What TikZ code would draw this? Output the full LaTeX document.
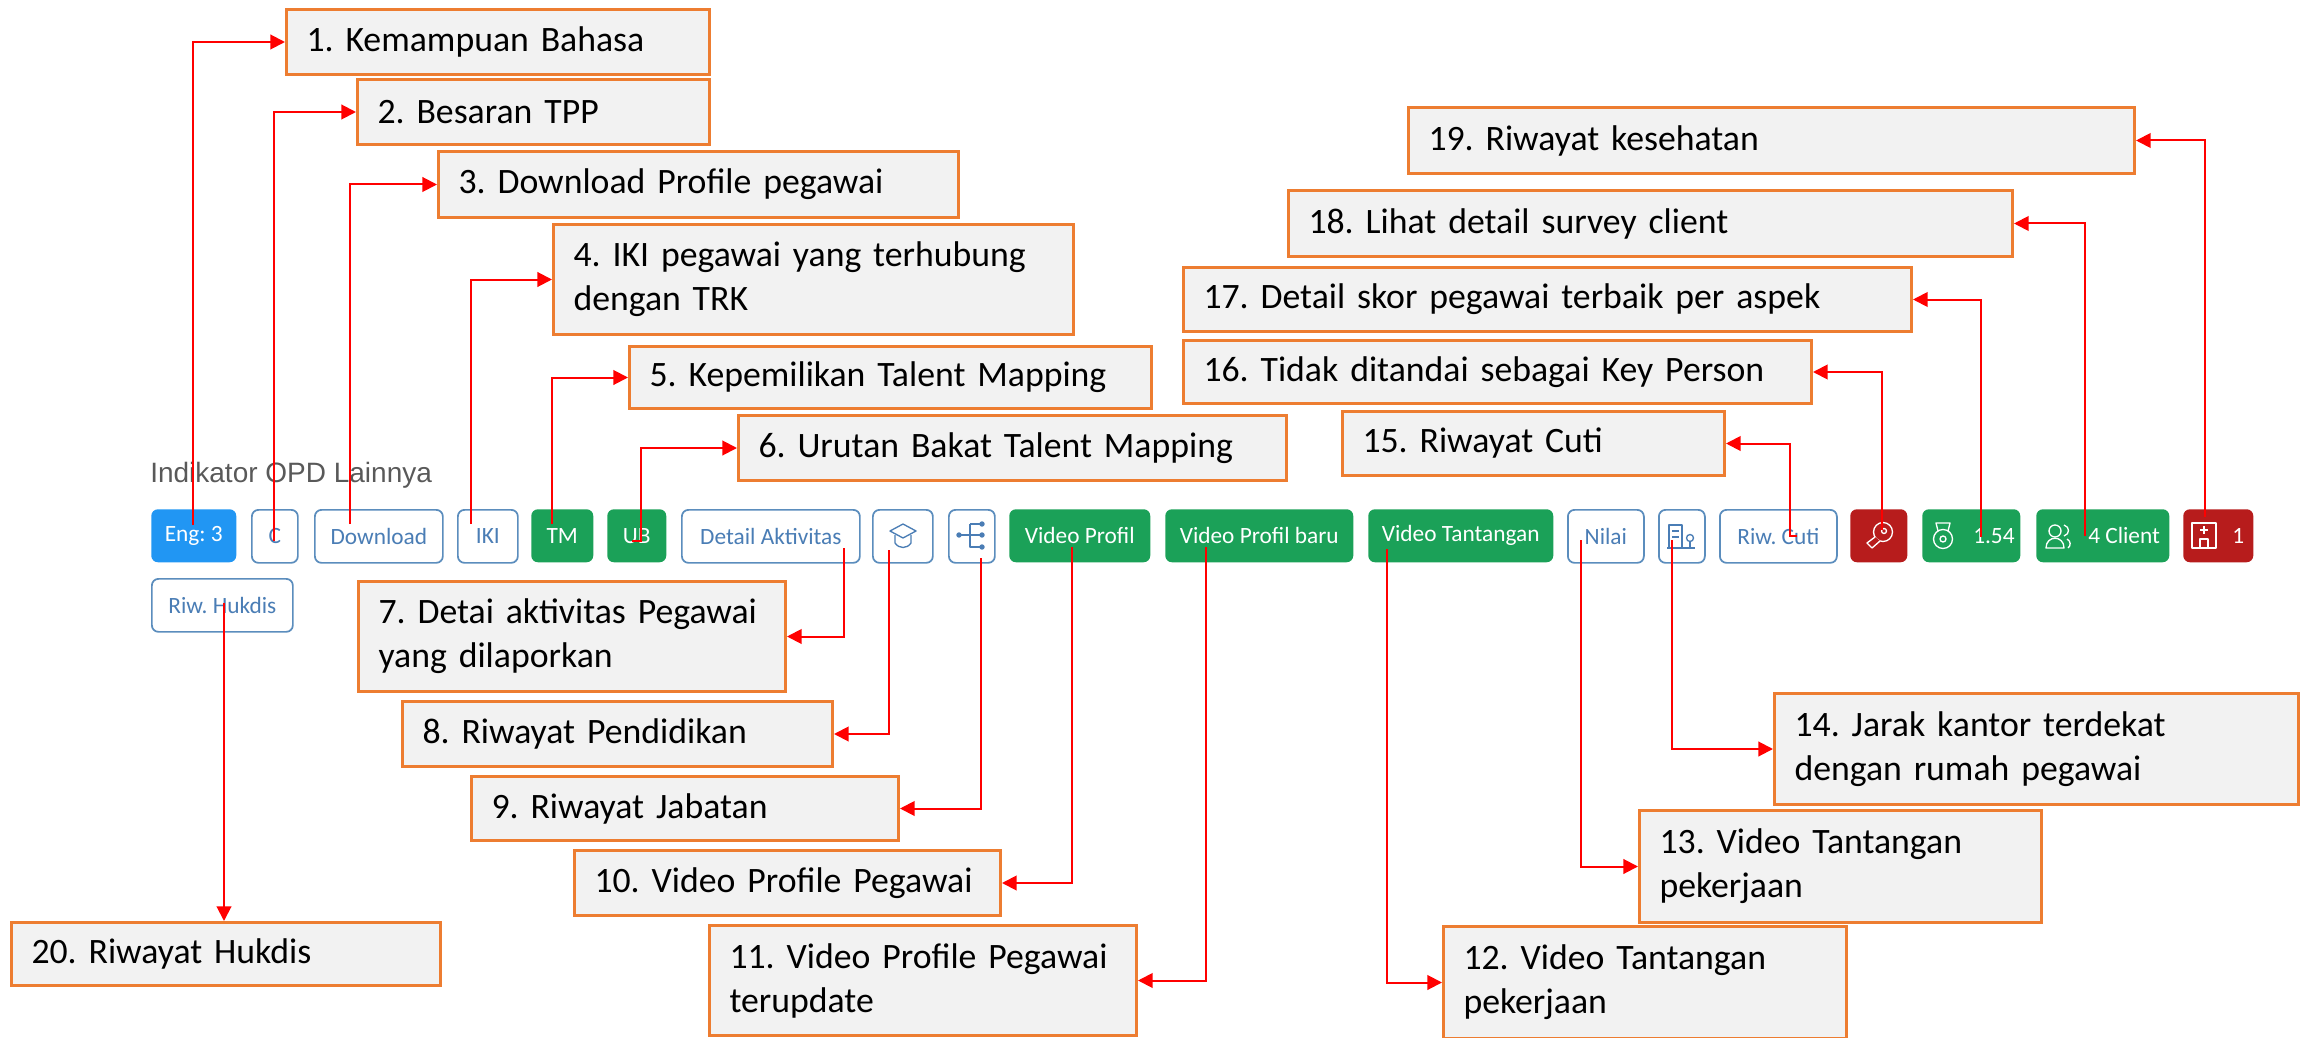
\documentclass[tikz,border=0pt]{standalone}
\usepackage{fontspec}
\setmainfont{Carlito}
\newfontfamily\titlefont{Liberation Sans}
\usetikzlibrary{arrows.meta}
\definecolor{boxline}{HTML}{ED7D31}
\definecolor{boxfill}{HTML}{F2F2F2}
\definecolor{btnline}{HTML}{5B8DBD}
\definecolor{btntext}{HTML}{4A7DB5}
\definecolor{btnblue}{HTML}{2196F3}
\definecolor{btngreen}{HTML}{1BA158}
\definecolor{btnred}{HTML}{B71C1C}
\tikzset{
  callout/.style 2 args={draw=boxline,line width=2.25pt,fill=boxfill,anchor=north west,
    minimum width=#1*0.75pt,minimum height=#2*0.75pt,text width=(#1-40)*0.75pt,
    inner xsep=15pt,inner ysep=0pt,align=left,font=\fontsize{26.8}{33}\selectfont},
  btn/.style={anchor=north west,rounded corners=5pt,minimum width=#1*0.75pt,minimum height=39.75pt,
    inner sep=0pt,font=\fontsize{17.5}{20}\selectfont},
  outline/.style={btn=#1,draw=btnline,line width=1.3pt,fill=white,text=btntext},
  green/.style={btn=#1,fill=btngreen,text=white},
  red/.style={btn=#1,fill=btnred,text=white},
  pointer/.style={draw=red,line width=1.5pt,-{Triangle[length=11pt,width=11pt]}},
  icon/.style={line width=1pt,line join=round}
}
\frenchspacing
\begin{document}
\begin{tikzpicture}[x=0.75pt,y=-0.75pt]
  \useasboundingbox (0,0) rectangle (2303,1038);
  \node[anchor=west,inner sep=0pt,text=black!65,font=\titlefont\fontsize{21}{24}\selectfont] (title) at (150,475) {Indikator OPD Lainnya};
  \node[btn=85,fill=btnblue,text=white] (eng) at (151,509) {Eng: 3};
  \node[outline=46] (c) at (251,509) {C};
  \node[outline=128] (download) at (314,509) {Download};
  \node[outline=60] (iki) at (457,509) {IKI};
  \node[green=62] (tm) at (531,509) {TM};
  \node[green=59] (ub) at (607,509) {UB};
  \node[outline=178] (aktivitas) at (681,509) {Detail Aktivitas};
  \node[outline=60] (hat) at (872,509) {};
  \node[outline=46] (tree) at (948,509) {};
  \node[green=141] (vprofil) at (1009,509) {Video Profil};
  \node[green=188] (vbaru) at (1165,509) {Video Profil baru};
  \node[green=185] (vtantangan) at (1368,509) {Video Tantangan};
  \node[outline=76] (nilai) at (1567,509) {Nilai};
  \node[outline=46] (jarak) at (1658,509) {};
  \node[outline=117] (cuti) at (1719,509) {Riw. Cuti};
  \node[red=57] (key) at (1850,509) {};
  \node[green=98] (skor) at (1922,509) {\hspace{34pt}1.54};
  \node[green=133] (client) at (2036,509) {\hspace{32pt}4 Client};
  \node[red=70] (sehat) at (2183,509) {\hspace{30pt}1};
  \node[outline=141] (hukdis) at (151,578) {Riw. Hukdis};

  \draw[icon,btntext] (903,524) -- (916,531) -- (903,538) -- (890,531) -- cycle;
  \draw[icon,btntext] (895,535) -- (895,543) .. controls (899,549) and (907,549) .. (911,543) -- (911,535);
  \draw[icon,btntext,fill=btntext] (959,535) circle (2) (982,535) circle (2) (982,524) circle (2) (982,547) circle (2);
  \draw[icon,btntext] (959,535) -- (982,535) (970,524) -- (982,524) (970,524) -- (970,547) -- (982,547);
  \draw[icon,btntext] (1669,548) -- (1669,525) -- (1682,525) -- (1682,548) (1672,531) -- (1679,531) (1672,537) -- (1679,537) (1667,548) -- (1695,548) (1690,548) -- (1690,541);
  \draw[icon,btntext] (1690,538) circle (3.5);
  \draw[icon,white] (1883,532) circle (9.5);
  \draw[icon,white] (1884,531) circle (2.5);
  \draw[icon,white,fill=btnred] (1875,537) -- (1867,543) -- (1872,548) -- (1880,541);
  \draw[icon,white] (1943,539) circle (9.5);
  \draw[icon,white] (1943,539) circle (3);
  \draw[icon,white] (1938,531) -- (1936,523) -- (1950,523) -- (1948,531);
  \draw[icon,white] (2055,531) circle (6);
  \draw[icon,white] (2046,548) .. controls (2046,535) and (2064,535) .. (2064,548) -- cycle;
  \draw[icon,white] (2064,525) .. controls (2070,527) and (2070,534) .. (2064,536) (2067,539) .. controls (2071,541) and (2071,546) .. (2068,548);
  \draw[icon,white] (2192,548) -- (2192,523) -- (2216,523) -- (2216,548) -- cycle (2204,526) -- (2204,534) (2200,530) -- (2208,530) (2200,548) -- (2200,539) -- (2208,539) -- (2208,548);

  \node[callout={423}{65}] (1) at (285,8) {1. Kemampuan Bahasa};
  \node[callout={352}{65}] (2) at (356,78) {2. Besaran TPP};
  \node[callout={520}{66}] (3) at (437,150) {3. Download Profile pegawai};
  \node[callout={520}{110}] (4) at (552,223) {4. IKI pegawai yang terhubung\\dengan TRK};
  \node[callout={522}{62}] (5) at (628,345) {5. Kepemilikan Talent Mapping};
  \node[callout={548}{65}] (6) at (737,414) {6. Urutan Bakat Talent Mapping};
  \node[callout={427}{110}] (7) at (357,580) {7. Detai aktivitas Pegawai\\yang dilaporkan};
  \node[callout={430}{65}] (8) at (401,700) {8. Riwayat Pendidikan};
  \node[callout={427}{64}] (9) at (470,775) {9. Riwayat Jabatan};
  \node[callout={426}{65}] (10) at (573,849) {10. Video Profile Pegawai};
  \node[callout={427}{110}] (11) at (708,924) {11. Video Profile Pegawai\\terupdate};
  \node[callout={403}{112}] (12) at (1442,925) {12. Video Tantangan\\pekerjaan};
  \node[callout={402}{112}] (13) at (1638,809) {13. Video Tantangan\\pekerjaan};
  \node[callout={524}{111}] (14) at (1773,692) {14. Jarak kantor terdekat\\dengan rumah pegawai};
  \node[callout={382}{64}] (15) at (1341,410) {15. Riwayat Cuti};
  \node[callout={628}{63}] (16) at (1182,339) {16. Tidak ditandai sebagai Key Person};
  \node[callout={728}{64}] (17) at (1182,266) {17. Detail skor pegawai terbaik per aspek};
  \node[callout={724}{66}] (18) at (1287,189) {18. Lihat detail survey client};
  \node[callout={726}{66}] (19) at (1407,106) {19. Riwayat kesehatan};
  \node[callout={429}{63}] (20) at (10,921) {20. Riwayat Hukdis};

  \coordinate (s1) at (193,525);
  \coordinate (s2) at (274,541);
  \coordinate (s3) at (350,524);
  \coordinate (s4) at (471,524);
  \coordinate (s5) at (552,524);
  \coordinate (s6) at (632,541);
  \coordinate (t6) at (641,541);
  \coordinate (s7) at (844,548);
  \coordinate (s8) at (889,550);
  \coordinate (s9) at (981,558);
  \coordinate (s10) at (1072,547);
  \coordinate (s11) at (1206,547);
  \coordinate (s12) at (1387,549);
  \coordinate (s13) at (1581,540);
  \coordinate (s14) at (1672,540);
  \coordinate (s15) at (1797,536);
  \coordinate (t15) at (1790,536);
  \coordinate (s16) at (1882,530);
  \coordinate (s17) at (1981,537);
  \coordinate (s18) at (2085,536);
  \coordinate (s19) at (2205,517);
  \coordinate (s20) at (224,603);

  \begin{scope}[pointer]
    \draw (s1) |- (1.west);
    \draw (s2) |- (2.west);
    \draw (s3) |- (3.west);
    \draw (s4) |- (4.west);
    \draw (s5) |- (5.west);
    \draw (s6) -- (t6) |- (6.west);
    \draw (s7) |- (7.east);
    \draw (s8) |- (8.east);
    \draw (s9) |- (9.east);
    \draw (s10) |- (10.east);
    \draw (s11) |- (11.east);
    \draw (s12) |- (12.west);
    \draw (s13) |- (13.west);
    \draw (s14) |- (14.west);
    \draw (s15) -- (t15) |- (15.east);
    \draw (s16) |- (16.east);
    \draw (s17) |- (17.east);
    \draw (s18) |- (18.east);
    \draw (s19) |- (19.east);
    \draw (s20) -- (s20 |- 20.north);
  \end{scope}
\end{tikzpicture}
\end{document}
